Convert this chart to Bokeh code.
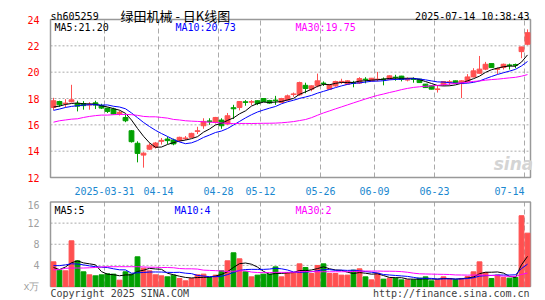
from bokeh.plotting import figure
from bokeh.models import Range1d, FixedTicker, Label, ColumnDataSource
from bokeh.layouts import column
from bokeh.embed import file_html
from bokeh.resources import INLINE

# ---------------- data ----------------
opens = [17.32, 17.77, 17.60, 17.75, 17.62, 17.62, 17.50, 17.67, 17.47, 17.27,
         17.20, 16.84, 16.56, 15.55, 14.60, 13.70, 14.15, 14.30, 14.75, 14.92,
         14.85, 14.80, 14.95, 15.05, 15.50, 15.93, 16.30, 16.18, 16.36, 16.06,
         17.30, 17.32, 17.75, 17.72, 17.83, 18.00, 17.85, 17.88, 17.70, 17.88,
         18.30, 18.28, 19.00, 18.71, 18.96, 19.17, 18.71, 18.96, 19.26, 19.09,
         19.20, 19.17, 19.47, 19.34, 19.43, 19.47, 19.47, 19.62, 19.70, 19.40,
         19.50, 19.47, 19.09, 18.96, 18.68, 19.04, 19.23, 19.34, 19.13, 19.29,
         19.64, 19.92, 20.23, 20.65, 20.22, 20.35, 20.55, 20.58, 21.56, 22.12]
highs = [18.05, 17.83, 17.95, 19.04, 17.83, 17.80, 17.72, 17.83, 17.60, 17.30,
         17.30, 17.07, 16.80, 15.60, 14.75, 13.92, 14.60, 14.70, 15.00, 15.10,
         14.95, 15.10, 15.15, 15.40, 15.85, 16.50, 16.50, 16.60, 16.50, 16.90,
         17.52, 17.80, 17.88, 17.88, 17.85, 18.02, 17.90, 18.20, 18.05, 18.30,
         18.45, 19.28, 19.20, 19.00, 19.89, 19.30, 19.10, 19.35, 19.50, 19.38,
         19.34, 19.62, 19.62, 19.56, 20.02, 19.60, 19.75, 19.80, 19.72, 19.60,
         19.60, 19.50, 19.10, 18.98, 19.00, 19.30, 19.40, 19.36, 19.38, 19.85,
         20.30, 21.23, 20.78, 20.65, 20.35, 20.65, 20.65, 20.65, 21.92, 23.25]
lows = [17.12, 17.37, 17.32, 17.70, 17.02, 17.15, 17.15, 17.20, 17.20, 16.90,
        16.80, 16.71, 16.20, 14.65, 13.15, 12.75, 14.10, 14.20, 14.50, 14.55,
        14.45, 14.75, 14.85, 15.00, 15.30, 15.70, 16.00, 16.10, 15.70, 16.00,
        16.44, 17.10, 17.45, 17.50, 17.50, 17.75, 17.60, 17.52, 17.65, 17.85,
        18.13, 18.20, 18.40, 18.55, 18.85, 18.95, 18.70, 18.90, 19.10, 19.05,
        18.85, 19.10, 19.15, 19.30, 19.30, 19.00, 19.40, 19.35, 19.30, 19.30,
        19.20, 19.20, 18.80, 18.70, 18.45, 18.95, 19.00, 19.15, 18.03, 19.20,
        19.60, 19.90, 20.15, 20.35, 19.85, 20.20, 20.20, 20.30, 21.06, 22.05]
closes = [17.83, 17.52, 17.65, 17.90, 17.42, 17.46, 17.55, 17.50, 17.27, 17.02,
          16.82, 16.95, 16.31, 14.72, 13.83, 13.85, 14.45, 14.62, 14.82, 14.80,
          14.55, 15.05, 15.00, 15.35, 15.55, 16.26, 16.24, 16.56, 15.93, 16.69,
          17.22, 17.77, 17.70, 17.76, 17.62, 17.77, 17.65, 17.83, 18.00, 18.20,
          18.35, 19.21, 18.76, 18.96, 19.34, 19.13, 19.04, 19.29, 19.30, 19.34,
          19.15, 19.51, 19.43, 19.54, 19.47, 19.43, 19.72, 19.58, 19.45, 19.50,
          19.45, 19.21, 18.83, 18.71, 18.73, 19.29, 19.27, 19.17, 19.34, 19.64,
          20.10, 20.23, 20.60, 20.35, 20.27, 20.60, 20.50, 20.53, 21.92, 23.00]
volumes = [4.67, 3.09, 2.97, 8.65, 4.86, 2.78, 2.21, 2.02, 2.21, 2.40,
           2.34, 1.20, 2.78, 2.34, 5.62, 3.47, 2.97, 2.21, 2.02, 1.83,
           2.15, 1.52, 1.07, 1.52, 2.21, 2.34, 1.70, 2.15, 2.97, 4.86,
           6.38, 5.24, 2.78, 1.83, 2.15, 2.34, 2.34, 3.72, 1.83, 2.65,
           2.65, 4.29, 3.60, 2.46, 3.98, 4.29, 2.46, 2.46, 2.15, 2.15,
           3.09, 3.35, 1.83, 1.26, 2.53, 1.39, 1.58, 1.58, 1.26, 1.26,
           1.26, 1.58, 1.83, 1.07, 1.26, 1.83, 1.52, 1.26, 1.52, 1.89,
           2.78, 4.67, 2.65, 1.52, 2.15, 1.70, 1.58, 1.70, 13.40, 10.10]

# moving-average values before enough visible days exist
ma5_head = [17.35, 17.42, 17.55, 17.62]
ma10_head = [17.10, 17.20, 17.32, 17.40, 17.45, 17.50, 17.53, 17.53, 17.50]
ma30_head = [16.20, 16.31, 16.37, 16.43, 16.46, 16.56, 16.64, 16.70, 16.74, 16.74,
             16.77, 16.79, 16.79, 16.77, 16.72, 16.64, 16.61, 16.61, 16.56, 16.51,
             16.41, 16.37, 16.31, 16.28, 16.26, 16.23, 16.20, 16.18, 16.14]
vma5_head = [3.60, 3.20, 3.70, 4.50]
vma10_head = [3.95, 3.95, 4.10, 4.30, 4.25, 4.10, 3.90, 3.75, 3.65]
vma30_head = [3.15, 3.20, 3.45, 3.50, 3.50, 3.50, 3.55, 3.60, 3.70, 3.75,
              3.75, 3.75, 3.75, 3.75, 3.75, 3.70, 3.65, 3.65, 3.60, 3.60,
              3.55, 3.40, 3.35, 3.35, 3.30, 3.10, 3.05, 3.00, 2.95]

date_tick_idx = [9, 18, 28, 35, 45, 54, 64, 79]
date_tick_labels = ["2025-03-31", "04-14", "04-28", "05-12", "05-26", "06-09", "06-23", "07-14"]
price_ticks = [12, 14, 16, 18, 20, 22, 24]
vol_ticks = [0, 4, 8, 12, 16]

stock_code = "sh605259"
chart_title = "绿田机械 - 日K线图"
timestamp = "2025-07-14 10:38:43"
price_ma_texts = ["MA5:21.20", "MA10:20.73", "MA30:19.75"]
vol_ma_texts = ["MA5:5", "MA10:4", "MA30:2"]
vol_unit = "x万"
copyright_text = "Copyright 2025 SINA.COM"
url_text = "http://finance.sina.com.cn"

# ---------------- helpers ----------------
def moving_avg(vals, n, head):
    out = []
    for i in range(len(vals)):
        if i < n - 1:
            out.append(head[i])
        else:
            out.append(sum(vals[i - n + 1:i + 1]) / n)
    return out

N = len(closes)
idx = list(range(N))
RED = "#ff5050"
GREEN = "#00a000"
MONO = "DejaVu Sans Mono"
MA_COLORS = ["#000000", "#0000ff", "#ff00ff"]
GRID = "#aaaaaa"
BORDER = "#999999"

up = [c >= o for o, c in zip(opens, closes)]
colors = [RED if u else GREEN for u in up]
src = ColumnDataSource(dict(
    x=idx, h=highs, l=lows,
    top=[max(o, c) for o, c in zip(opens, closes)],
    bot=[min(o, c) for o, c in zip(opens, closes)],
    vol=volumes, color=colors,
))

X0, X1 = -0.5, N - 0.5            # panel extent in day-index units
PX = 6.0                           # pixels per day
XR = (X0 - 2 / PX, X1 + 2 / PX)    # frame range (2px extra each side)
grid_x = [i - 0.5 for i in date_tick_idx]

# price panel: frame spans whole figure height (header + dates inside)
KY1 = 158 / 12.0
YR1 = (12 - 22 / KY1, 24 + 19 / KY1)
# volume panel: frame spans whole figure height (footer inside)
KY2 = 84.5 / 16.0
YR2 = (0 - 14 / KY2, 16 + 2.5 / KY2)


def make_fig(height, yr, yticks, label_color):
    p = figure(width=545, height=height, x_range=Range1d(*XR), y_range=Range1d(*yr),
               output_backend="svg", toolbar_location=None,
               min_border_left=48, min_border_right=13, min_border_top=0, min_border_bottom=0)
    p.xaxis.visible = False
    p.xgrid.visible = False
    p.ygrid.visible = False
    p.yaxis.ticker = FixedTicker(ticks=yticks)
    p.yaxis.axis_line_color = None
    p.yaxis.major_tick_line_color = None
    p.yaxis.minor_tick_line_color = None
    p.yaxis.major_label_text_font = MONO
    p.yaxis.major_label_text_font_size = "10px"
    p.yaxis.major_label_text_color = label_color
    p.yaxis.major_label_standoff = 3
    p.outline_line_color = None
    p.background_fill_color = "white"
    p.border_fill_color = "white"
    lo, hi = yticks[0], yticks[-1]
    inner = yticks[1:-1]
    p.segment(x0=[X0] * len(inner), y0=inner, x1=[X1] * len(inner), y1=inner,
              line_color=GRID, line_dash="2 2", line_width=1)
    p.segment(x0=grid_x, y0=[lo] * len(grid_x), x1=grid_x, y1=[hi] * len(grid_x),
              line_color=GRID, line_dash="5 3", line_width=1)
    p.quad(left=[X0], right=[X1], bottom=[lo], top=[hi], fill_color=None,
           line_color=BORDER, line_width=1.5)
    return p


def lab(p, x, y, text, color="#000000", align="left", size="10px", font=MONO,
        baseline="alphabetic", style_="normal"):
    p.add_layout(Label(x=x, y=y, text=text, text_color=color, text_align=align,
                       text_font=font, text_font_size=size, text_baseline=baseline,
                       text_font_style=style_))


def px_to_x(px):
    return (px - 50) / PX - 0.5

# ---------------- price panel ----------------
p1 = make_fig(199, YR1, price_ticks, "#ff0000")
p1.segment(x0="x", y0="h", x1="x", y1="l", color="color", line_width=1, source=src)
p1.vbar(x="x", width=0.8, top="top", bottom="bot", fill_color="color", line_color="color",
        line_width=1, source=src)
for n, head, col in zip([5, 10, 30], [ma5_head, ma10_head, ma30_head], MA_COLORS):
    p1.line(idx, moving_avg(closes, n, head), line_color=col, line_width=1)

lab(p1, px_to_x(513), 24 - 144 / KY1, "sina", color="#d4d4d4", align="center", size="17px",
    font="DejaVu Sans", baseline="middle", style_="bold italic")

# header (inside the frame, above the panel)
lab(p1, px_to_x(50), 24 + 3.5 / KY1, stock_code)
lab(p1, px_to_x(120), 24 + 4.0 / KY1, chart_title, size="13px", font="Noto Sans CJK SC")
lab(p1, px_to_x(529), 24 + 3.5 / KY1, timestamp, align="right")
for pxx, t, col in zip([54, 175, 295], price_ma_texts, MA_COLORS):
    lab(p1, px_to_x(pxx), 24 - 8 / KY1, t, color=col)

# date labels (inside the frame, below the panel)
for i, t in zip(date_tick_idx, date_tick_labels):
    align = "right" if i == date_tick_idx[-1] else "center"
    lab(p1, i - 0.5, 12 - 13 / KY1, t, color="#1a88d0", align=align)

# ---------------- volume panel ----------------
p2 = make_fig(101, YR2, vol_ticks, "#a0a0a0")
p2.yaxis.major_label_overrides = {0: vol_unit}
p2.vbar(x="x", width=0.8, top="vol", bottom=0, fill_color="color", line_color="color",
        line_width=1, source=src)
for n, head, col in zip([5, 10, 30], [vma5_head, vma10_head, vma30_head], MA_COLORS):
    p2.line(idx, moving_avg(volumes, n, head), line_color=col, line_width=1)

for pxx, t, col in zip([54, 174, 295], vol_ma_texts, MA_COLORS):
    lab(p2, px_to_x(pxx), 16 - 8 / KY2, t, color=col)
lab(p2, px_to_x(50), -7.0 / KY2, copyright_text, color="#404040")
lab(p2, px_to_x(529), -7.0 / KY2, url_text, color="#404040", align="right")

layout = column(p1, p2, spacing=0)
open("out.html", "w").write(file_html(layout, INLINE))
